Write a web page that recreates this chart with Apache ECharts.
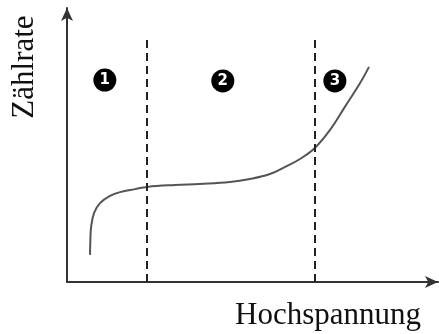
<!DOCTYPE html>
<html lang="de">
<head>
    <meta charset="UTF-8">
    <title>Zählrate</title>
    <script src="https://cdn.jsdelivr.net/npm/echarts@6/dist/echarts.min.js"></script>
    <style type="text/css">
        html, body {
            margin: 0;
            width: 100%;
            height: 100%;
            background: #fff;
        }
        #chart {
            width: 439px;
            height: 334px;
        }
    </style>
</head>
<body>
    <div id="chart"></div>
    <script type="text/javascript">
        // Kennlinie (x: Hochspannung, y: Zählrate), beliebige Einheiten 0..100
        var curveX = [6.2, 6.3, 6.5, 7.3, 8.9, 11.6, 14.3, 18.3, 21.6, 29.1, 35.8, 43.9, 49.3, 54.7, 58.8, 62.8, 66.8, 70.9, 74.9, 79.0, 81.4];
        var curveY = [9.9, 15.3, 20.1, 25.2, 28.8, 31.4, 32.8, 33.9, 34.7, 35.4, 35.8, 36.5, 37.6, 39.4, 42.0, 44.9, 48.9, 55.5, 63.9, 72.6, 78.5];

        // Bereichsgrenzen (gestrichelt)
        var borderX = [21.6, 66.8];
        var borderTop = 89;

        // Bereichsnummern
        var regionLabels = ['1', '2', '3'];
        var regionX = [10.2, 42.0, 72.2];
        var regionY = [73.7, 73.4, 73.4];

        var xName = 'Hochspannung';
        var yName = 'Zählrate';

        var chart = echarts.init(document.getElementById('chart'));

        var curveData = [];
        for (var i = 0; i < curveX.length; i++) {
            curveData.push([curveX[i], curveY[i]]);
        }
        var markerData = [];
        for (var j = 0; j < regionLabels.length; j++) {
            markerData.push({ value: [regionX[j], regionY[j]], name: regionLabels[j] });
        }
        var borderLines = borderX.map(function (x) {
            return [{ coord: [x, 0] }, { coord: [x, borderTop] }];
        });

        var axisCommon = {
            type: 'value',
            min: 0,
            max: 100,
            axisLabel: { show: false },
            axisTick: { show: false },
            splitLine: { show: false },
            axisLine: {
                show: true,
                symbol: ['none', 'arrow'],
                symbolSize: [9, 13],
                lineStyle: { color: '#333', width: 2 }
            }
        };

        var option = {
            animation: false,
            backgroundColor: '#fff',
            grid: { left: 67, right: 1, top: 8, bottom: 52 },
            xAxis: axisCommon,
            yAxis: axisCommon,
            graphic: [
                {
                    type: 'text',
                    x: 25, y: 67,
                    rotation: Math.PI / 2,
                    style: {
                        text: yName,
                        font: '31px "Liberation Serif"',
                        fill: '#111',
                        align: 'center',
                        verticalAlign: 'middle'
                    }
                },
                {
                    type: 'text',
                    x: 328, y: 316,
                    style: {
                        text: xName,
                        font: '31px "Liberation Serif"',
                        fill: '#111',
                        align: 'center',
                        verticalAlign: 'middle'
                    }
                }
            ],
            series: [
                {
                    type: 'line',
                    data: curveData,
                    smooth: 0.4,
                    showSymbol: false,
                    lineStyle: { color: '#555', width: 2 },
                    markLine: {
                        silent: true,
                        symbol: ['none', 'none'],
                        label: { show: false },
                        lineStyle: { color: '#222', width: 2, type: [8, 5] },
                        data: borderLines
                    }
                },
                {
                    type: 'scatter',
                    data: markerData,
                    symbol: 'circle',
                    symbolSize: 23,
                    itemStyle: { color: '#000', opacity: 1 },
                    label: {
                        show: true,
                        position: 'inside',
                        formatter: '{b}',
                        color: '#fff',
                        fontFamily: 'DejaVu Sans',
                        fontWeight: 'bold',
                        fontSize: 15
                    }
                }
            ]
        };

        chart.setOption(option);
    </script>
</body>
</html>
